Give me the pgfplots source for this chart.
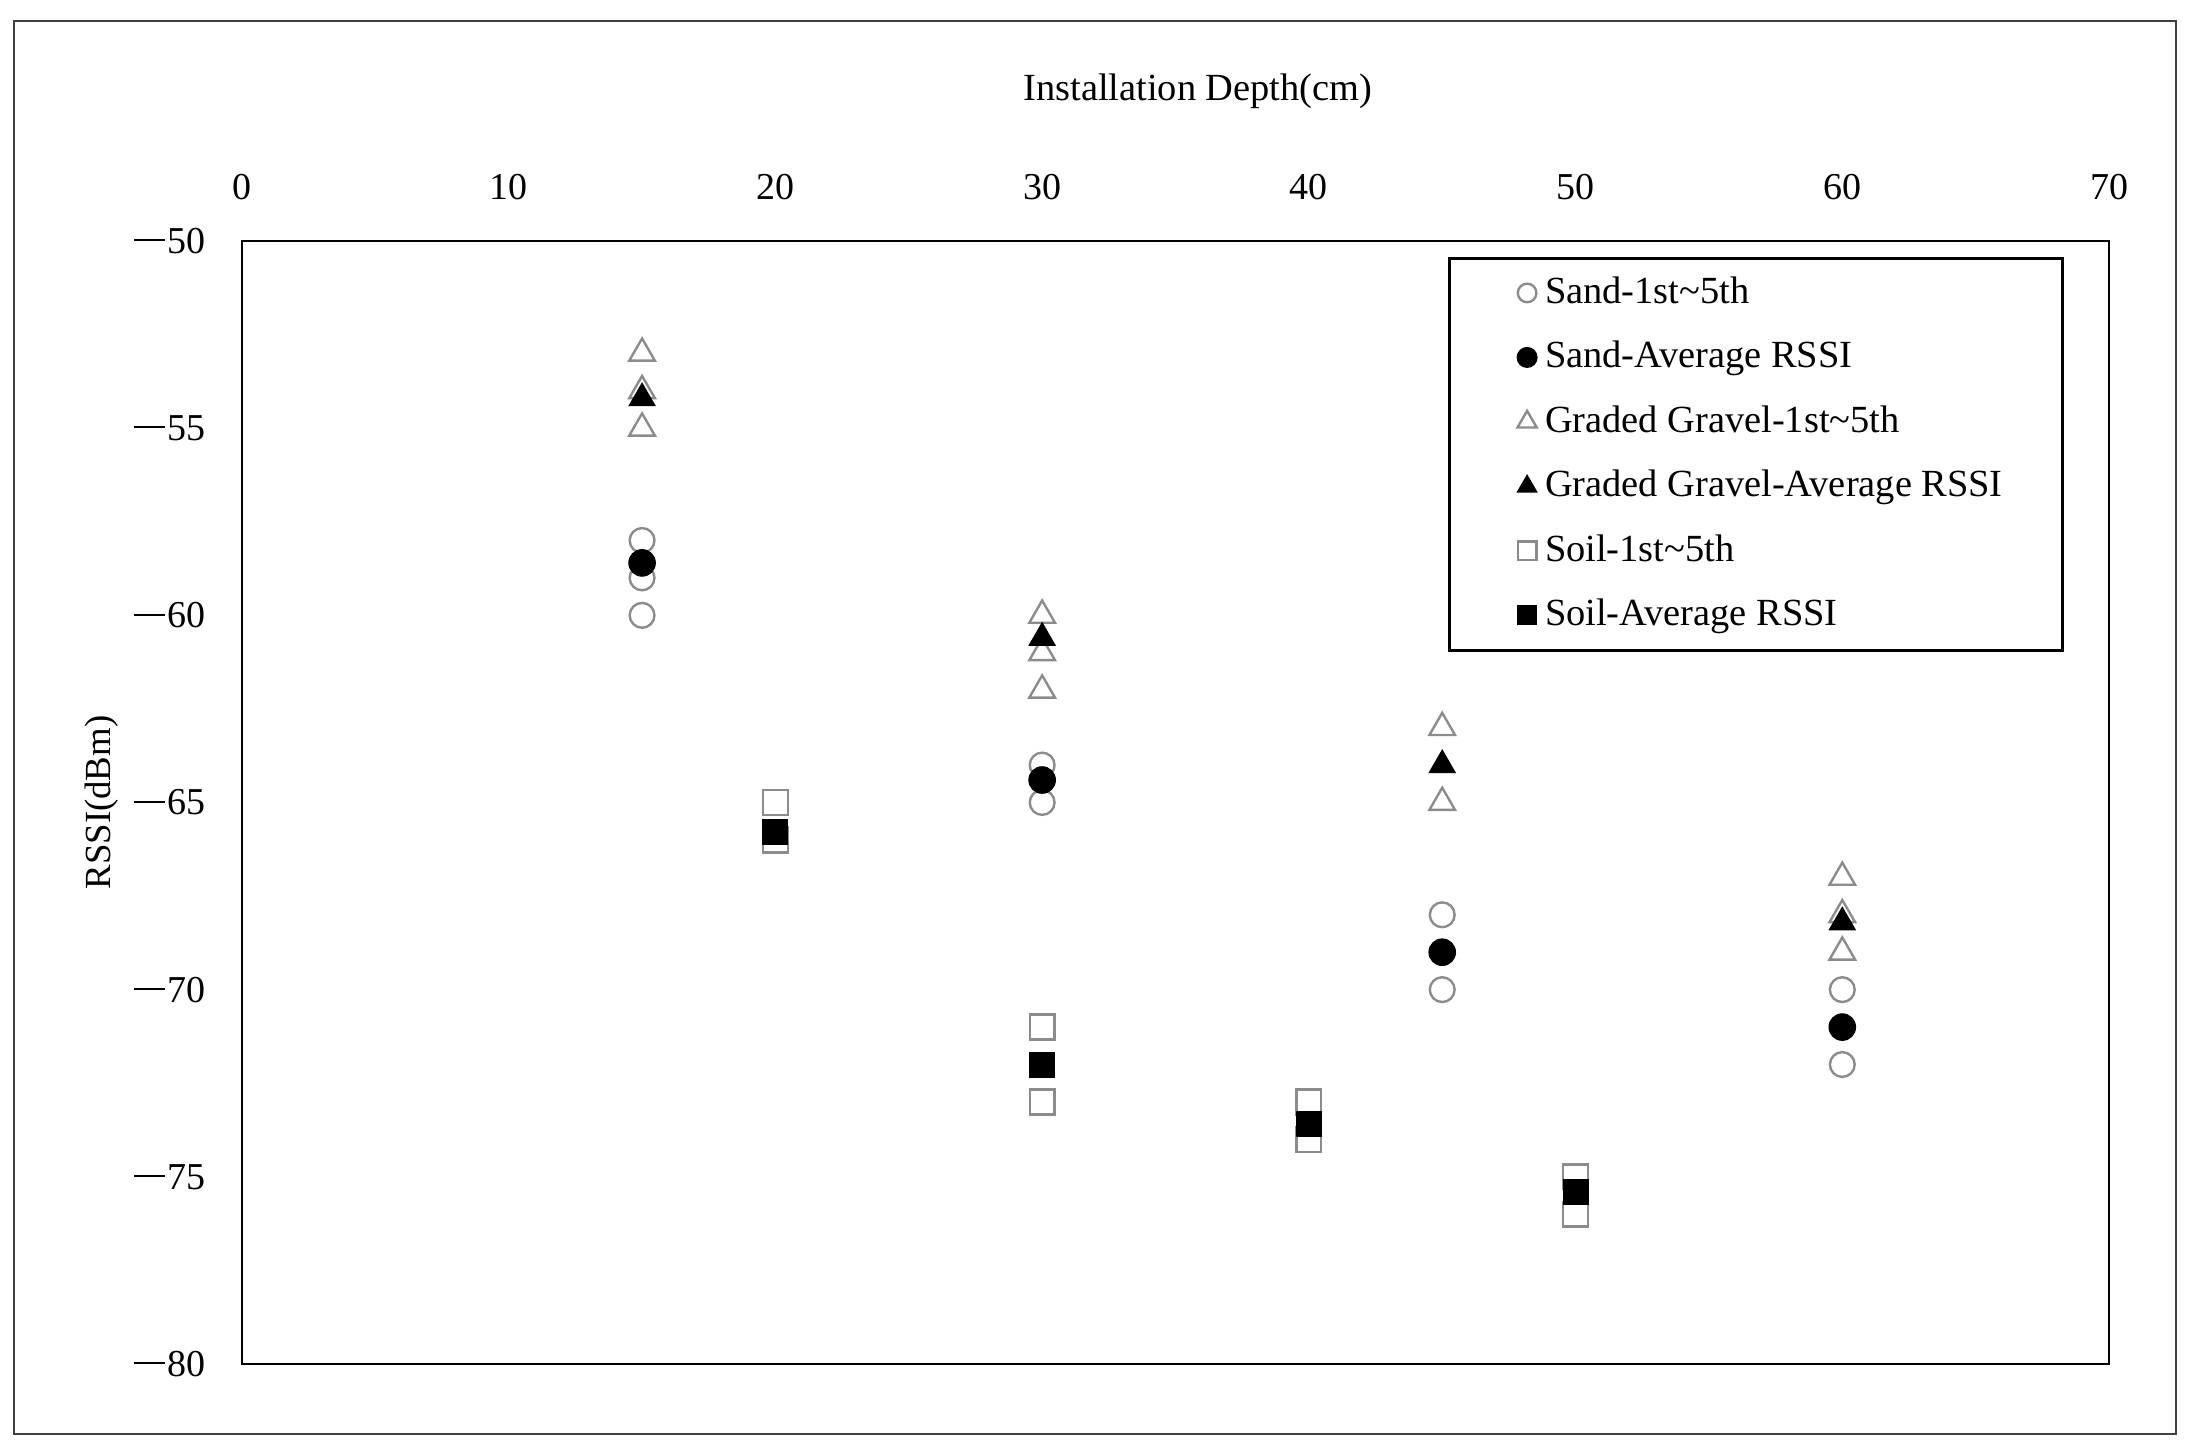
\documentclass[border=0pt]{standalone}
\usepackage{fontspec}
\setmainfont{Liberation Serif}
\usepackage{pgfplots}
\pgfplotsset{compat=1.18}
\newcommand\mn{\rule[3pt]{7.8pt}{0.5pt}\hspace{0.5pt}}
\pgfplotsset{
  openm/.style={only marks, color=black!45, mark options={fill=white, line width=0.6pt}},
  fillm/.style={only marks, color=black, mark options={fill=black, line width=0.3pt}},
}
\begin{document}
\begin{tikzpicture}
\path (0pt,0pt) rectangle (548.25pt,-362.75pt);
\draw[black!75, line width=0.5pt] (3.5pt,-5.25pt) rectangle (544pt,-358.5pt);
\begin{axis}[
  at={(60.5pt,-60.25pt)}, anchor=north west,
  scale only axis, width=466.75pt, height=280.75pt,
  xmin=0, xmax=70, ymin=-80, ymax=-50,
  xtick={0,10,...,70},
  ytick={-80,-75,...,-50},
  yticklabels={\mn80,\mn75,\mn70,\mn65,\mn60,\mn55,\mn50},
  /pgf/number format/assume math mode=true,
  xticklabel pos=upper,
  major tick length=0pt,
  tick style={draw=none},
  axis line style={line width=0.7pt},
  clip=false,
  tick label style={font=\fontsize{9.5}{11}\selectfont},
  xticklabel style={inner sep=0pt, anchor=south, yshift=10pt},
  yticklabel style={inner sep=0pt, anchor=east, xshift=-9pt},
  xlabel={Installation Depth(cm)},
  ylabel={RSSI(dBm)},
  xlabel style={at={(axis description cs:0.512,1.133)}, anchor=center, font=\fontsize{9.6}{11}\selectfont},
  ylabel style={at={(axis description cs:-0.075,0.5)}, anchor=center, font=\fontsize{9.2}{11}\selectfont},
  legend style={at={(axis description cs:0.976,0.986)}, anchor=north east,
    draw=black, line width=0.7pt, font=\fontsize{9.6}{9.6}\selectfont,
    inner xsep=11pt, inner ysep=2.6pt, row sep=3.9pt},
  legend cell align=left,
  legend image code/.code={\path (-8pt,0pt) (2pt,0pt);
    \draw[#1,/tikz/every mark/.append style={scale=0.75}] plot coordinates {(0pt,0pt)};},
]
\addplot[openm, mark=o, mark size=3.1pt] coordinates {
(15,-58) (15,-59) (15,-60) (30,-64) (30,-65) (45,-68) (45,-70) (60,-70) (60,-72)};
\addlegendentry{Sand-1st\textasciitilde5th\strut}
\addplot[fillm, mark=*, mark size=3.3pt] coordinates {
(15,-58.6) (30,-64.4) (45,-69) (60,-71)};
\addlegendentry{Sand-Average RSSI\strut}
\addplot[openm, mark=triangle, mark size=3.7pt] coordinates {
(15,-53) (15,-54) (15,-55) (30,-60) (30,-61) (30,-62) (45,-63) (45,-65) (60,-67) (60,-68) (60,-69)};
\addlegendentry{Graded Gravel-1st\textasciitilde5th\strut}
\addplot[fillm, mark=triangle*, mark size=3.7pt] coordinates {
(15,-54.2) (30,-60.6) (45,-64) (60,-68.2)};
\addlegendentry{Graded Gravel-Average RSSI\strut\hspace*{2pt}}
\addplot[openm, mark=square, mark size=3.1pt] coordinates {
(20,-65) (20,-66) (30,-71) (30,-73) (40,-73) (40,-74) (50,-75) (50,-76)};
\addlegendentry{Soil-1st\textasciitilde5th\strut}
\addplot[fillm, mark=square*, mark size=3.1pt] coordinates {
(20,-65.8) (30,-72) (40,-73.6) (50,-75.4)};
\addlegendentry{Soil-Average RSSI\strut}
\end{axis}
\end{tikzpicture}
\end{document}
